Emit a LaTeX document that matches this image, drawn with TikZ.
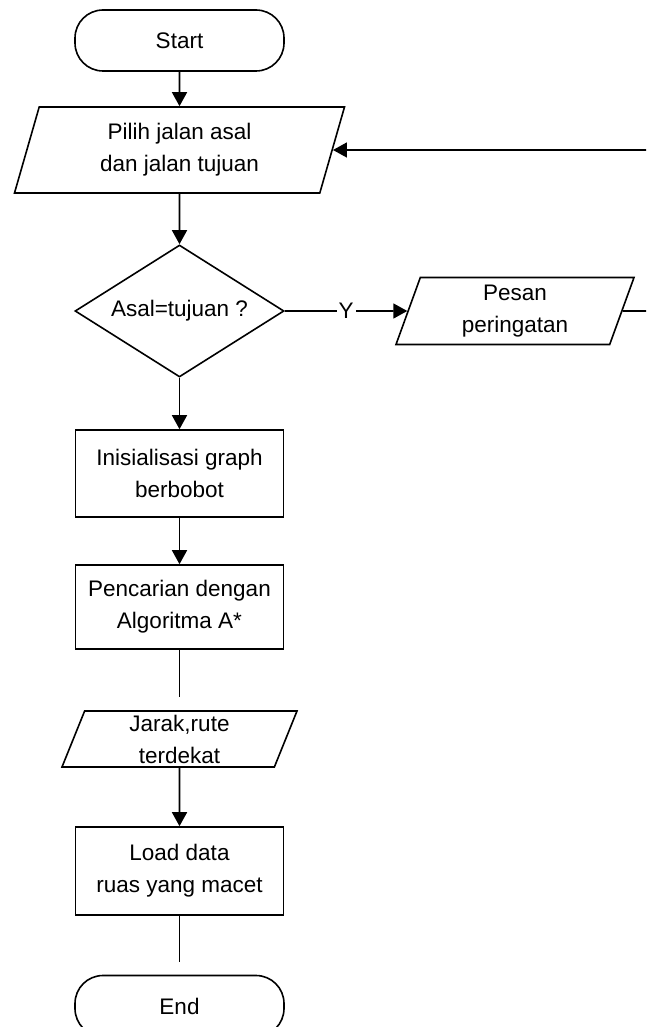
\documentclass[tikz,border=0pt]{standalone}
\usepackage{fontspec}
\setmainfont{Liberation Sans}
\usetikzlibrary{shapes.geometric, arrows.meta}

\begin{document}
\begin{tikzpicture}[x = 1pt, y = -1pt,
        every node/.append style = {font = \fontsize{22.5pt}{32pt}\selectfont, align = center, line width = 1.6pt, inner sep = 0pt},
        term/.style = {draw, rectangle, rounded corners = 28pt, minimum width = 209pt, minimum height = 61pt},
        proc/.style = {draw, rectangle, minimum width = 208pt},
        dat/.style = {draw, trapezium, trapezium left angle = 65, trapezium right angle = 115, trapezium stretches body},
        dec/.style = {draw, diamond, shape aspect = 1.58, minimum width = 209pt, minimum height = 132pt},
        conn/.style = {line width = 1.6pt},
        flow/.style = {conn, -{Triangle[length = 14pt, width = 15pt]}}]
    \useasboundingbox (0,0) rectangle (646,1027);
    \begin{scope}
        \node[term] (start) at (179.5,40.5) {Start};
        \node[dat, minimum width = 330pt, minimum height = 86pt] (pilih) at (179.5,150) {Pilih jalan asal\\dan jalan tujuan};
        \node[dec] (cek) at (179.5,311) {Asal=tujuan ?};
        \node[dat, minimum width = 238pt, minimum height = 67pt] (pesan) at (515,311) {Pesan\\peringatan};
        \node[proc, minimum height = 87pt] (init) at (179.5,473.5) {Inisialisasi graph\\berbobot};
        \node[proc, minimum height = 84pt] (cari) at (179.5,607) {Pencarian dengan\\Algoritma A*};
        \node[dat, minimum width = 235pt, minimum height = 56pt] (jarak) at (179.5,739) {Jarak,rute\\terdekat};
        \node[proc, minimum height = 88pt] (load) at (179.5,871) {Load data\\ruas yang macet};
        \node[term] (end) at (179.5,1006) {End};
        \coordinate (putus1) at (179.5,697);
        \coordinate (putus2) at (179.5,962);
        \coordinate (kanan1) at (646,311);
        \coordinate (kanan2) at (646,150);
    \end{scope}
    \begin{scope}
        \draw[flow] (start) -- (pilih);
        \draw[flow] (pilih) -- (cek);
        \draw[flow] (cek) -- (init);
        \draw[flow] (init) -- (cari);
        \draw[conn] (cari) -- (putus1);
        \draw[flow] (jarak) -- (load);
        \draw[conn] (load) -- (putus2);
        \draw[flow] (cek) -- node[fill = white, inner sep = 2pt] (ya) {Y} (pesan);
        \draw[conn] (pesan) -- (kanan1);
        \draw[flow] (kanan2) -- (pilih.east);
    \end{scope}
\end{tikzpicture}
\end{document}
